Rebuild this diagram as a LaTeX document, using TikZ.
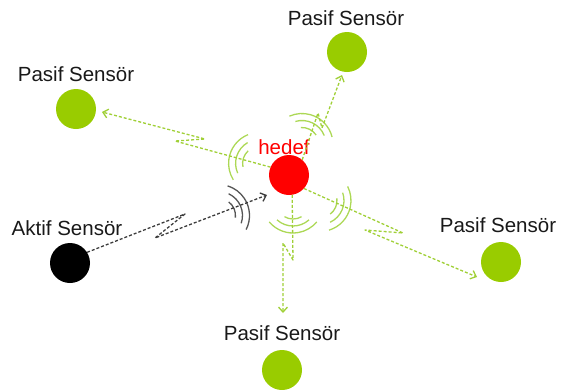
\documentclass[tikz,border=0pt]{standalone}
\usepackage{fontspec}
\setmainfont{Liberation Sans}
\usetikzlibrary{arrows.meta,calc}
\definecolor{sgreen}{RGB}{153,204,0}
\definecolor{lgreen}{RGB}{160,208,55}
\definecolor{wgreen}{RGB}{172,216,85}
\definecolor{dgray}{RGB}{60,60,60}
\definecolor{wgray}{RGB}{85,85,85}
\newcommand\wavegrp[3]{%
  \foreach \r/\s in {17/30,24/42,31/50}{%
    \draw[#3,line width=1.3pt] ($(#1)+(#2+\s:\r)$) arc[start angle=#2+\s, end angle=#2-\s, radius=\r];}}
\begin{document}
\begin{tikzpicture}[x=1pt,y=-1pt,
  sensor/.style={circle,minimum size=40pt,inner sep=0pt},
  lbl/.style={font=\fontsize{20.5}{24}\selectfont,inner sep=0pt,text=black!90},
  garrow/.style={draw=lgreen,line width=1.3pt,dash pattern=on 3pt off 2pt,line join=round,-{Straight Barb[length=5pt,width=9pt]}},
  karrow/.style={draw=dgray,line width=1.3pt,dash pattern=on 3pt off 2pt,line join=round,-{Straight Barb[length=5pt,width=9pt]}}]
\useasboundingbox (0,0) rectangle (563,389);
% sensors
\node[sensor,fill=red] (hedef) at (289,175) {};
\node[sensor,fill=black] (aktif) at (70,263) {};
\node[sensor,fill=sgreen] (pt) at (347,52) {};
\node[sensor,fill=sgreen] (pl) at (76,109) {};
\node[sensor,fill=sgreen] (pr) at (501,262) {};
\node[sensor,fill=sgreen] (pb) at (282,370) {};
% labels
\node[lbl,text=red] (lh) at (284,147) {hedef};
\node[lbl] (la) at (67,228) {Aktif Sensör};
\node[lbl] (lt) at (346,18) {Pasif Sensör};
\node[lbl] (ll) at (76,74) {Pasif Sensör};
\node[lbl] (lr) at (498,225) {Pasif Sensör};
\node[lbl] (lb) at (282,333) {Pasif Sensör};
% zigzag points and tips
\coordinate (a1) at (185,214); \coordinate (a2) at (155,238); \coordinate (ta) at (267,195);
\coordinate (t1) at (318,113); \coordinate (t2) at (322,128); \coordinate (tt) at (342,75);
\coordinate (l1) at (175,141); \coordinate (l2) at (205,139); \coordinate (tl) at (102,112);
\coordinate (r1) at (403,233); \coordinate (r2) at (365,230); \coordinate (tr) at (477,277);
\coordinate (b1) at (293,260); \coordinate (b2) at (283,243); \coordinate (tb) at (283,313);
% waves
\wavegrp{218.5,215.5}{-23}{wgray}
\wavegrp{259.6,163.4}{198}{wgreen}
\wavegrp{302,144.5}{-64}{wgreen}
\wavegrp{320,200.5}{23}{wgreen}
\wavegrp{293,202}{90}{wgreen}
% connectors
\draw[karrow] (aktif.32) -- (a1) -- (a2) -- (ta);
\draw[garrow] (hedef.49) -- (t1) -- (t2) -- (tt);
\draw[garrow] (hedef.157) -- (l1) -- (l2) -- (tl);
\draw[garrow] (hedef.318) -- (r1) -- (r2) -- (tr);
\draw[garrow] (hedef.279) -- (b1) -- (b2) -- (tb);
\end{tikzpicture}
\end{document}
